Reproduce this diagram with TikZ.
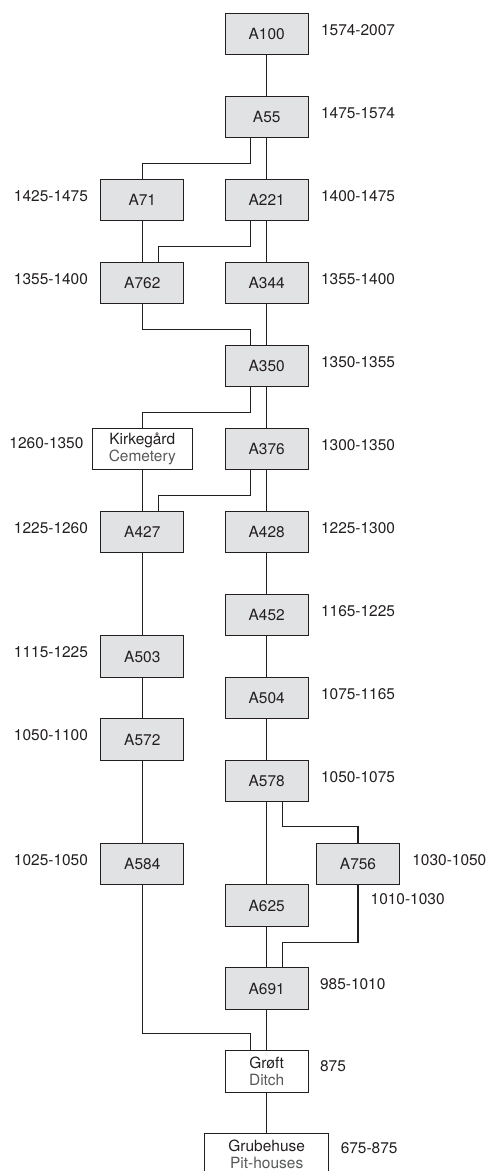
\documentclass[tikz,border=0pt]{standalone}
\usepackage{fontspec}
\setsansfont{TeX Gyre Heros}
\usetikzlibrary{positioning}
\definecolor{phsInk}{HTML}{231F20}
\definecolor{phsFill}{HTML}{E1E2E4}
\definecolor{phsGray}{HTML}{58595B}
\tikzset{
  phs box/.style={draw=phsInk, fill=phsFill, line width=0.8pt, minimum width=2.075cm, minimum height=1.0375cm, inner sep=0pt, font=\sffamily\fontsize{11}{12}\selectfont, text=phsInk},
  phs plain/.style={phs box, fill=white, align=center},
  phs date/.style={font=\sffamily\fontsize{11}{12}\selectfont, text=phsInk, inner sep=0pt},
  phs link/.style={draw=phsInk, line width=0.8pt},
}
\newcommand{\phsen}[1]{{\color{phsGray}#1}}

\begin{document}
\begin{tikzpicture}[x=0.025cm, y=-0.025cm]
  \useasboundingbox (0,0) rectangle (489,1171);
  \clip (0,0) rectangle (489,1171);
  % Grey context boxes, one per row step of 41.5
  \foreach \nm/\cx/\k in {A100/266.7/0, A55/266.7/2, A71/142.3/4, A221/266.7/4,
      A762/142.3/6, A344/266.7/6, A350/266.7/8, A376/266.7/10, A427/142.3/12,
      A428/266.7/12, A452/266.7/14, A503/142.3/15, A504/266.7/16, A572/142.3/17,
      A578/266.7/18, A584/142.3/20, A756/358/20, A625/266.7/21, A691/266.7/23}
    \node[phs box] (\nm) at (\cx,34+41.5*\k) {\nm};
  % White boxes with translation
  \node[phs plain, minimum width=2.5cm] (kirke) at (142.3,449) {Kirkegård\\\phsen{Cemetery}};
  \node[phs plain] (groeft) at (266.7,1071.5) {Grøft\\\phsen{Ditch}};
  \node[phs plain, minimum width=3.1cm] (grube) at (266.7,1154.5) {Grubehuse\\\phsen{Pit-houses}};
  % Dates
  \foreach \nm/\txt in {A100/1574-2007, A55/1475-1574, A221/1400-1475, A344/1355-1400,
      A350/1350-1355, A376/1300-1350, A428/1225-1300, A452/1165-1225, A504/1075-1165,
      A578/1050-1075, A756/1030-1050}
    \node[phs date, right=3mm of \nm, yshift=1mm] (d\nm) {\txt};
  \foreach \nm/\txt in {A71/1425-1475, A762/1355-1400, A427/1225-1260, A503/1115-1225,
      A572/1050-1100, A584/1025-1050}
    \node[phs date, left=3mm of \nm, yshift=1mm] (d\nm) {\txt};
  \node[phs date, left=2mm of kirke, yshift=1.4mm] (dkirke) {1260-1350};
  \node[phs date, right=15.4mm of A625, yshift=1.5mm] (dA625) {1010-1030};
  \node[phs date, right=2.75mm of A691, yshift=1.2mm] (dA691) {985-1010};
  \node[phs date, right=2.75mm of groeft, yshift=1.25mm] (dgroeft) {875};
  \node[phs date, right=2.8mm of grube, yshift=1.6mm] (dgrube) {675-875};
  % Straight links
  \foreach \a/\b in {A100/A55, A55/A221, A71/A762, A221/A344, A344/A350, A350/A376,
      kirke/A427, A376/A428, A427/A503, A503/A572, A572/A584, A428/A452, A452/A504,
      A504/A578, A578/A625, A625/A691, A691/groeft, groeft/grube}
    \draw[phs link] (\a) -- (\b);
  % Elbow links
  \draw[phs link] ([xshift=-4mm]A55.south) -- ++(0,-6.25mm) -| (A71.north);
  \draw[phs link] ([xshift=-4mm]A221.south) -- ++(0,-6.25mm) -| ([xshift=4mm]A762.north);
  \draw[phs link] (A762.south) -- ++(0,-6.25mm) -| ([xshift=-4mm]A350.north);
  \draw[phs link] ([xshift=-4mm]A350.south) -- ++(0,-6.25mm) -| (kirke.north);
  \draw[phs link] ([xshift=-4mm]A376.south) -- ++(0,-6.25mm) -| ([xshift=4mm]A427.north);
  \draw[phs link] ([xshift=4mm]A578.south) -- ++(0,-6mm) -| (A756.north);
  \draw[phs link] ([xshift=4mm]A691.north) -- ++(0,6.1mm) -| (A756.south);
  \draw[phs link] ([xshift=-4mm]groeft.north) -- ++(0,4.15mm) -| (A584.south);
\end{tikzpicture}
\end{document}
